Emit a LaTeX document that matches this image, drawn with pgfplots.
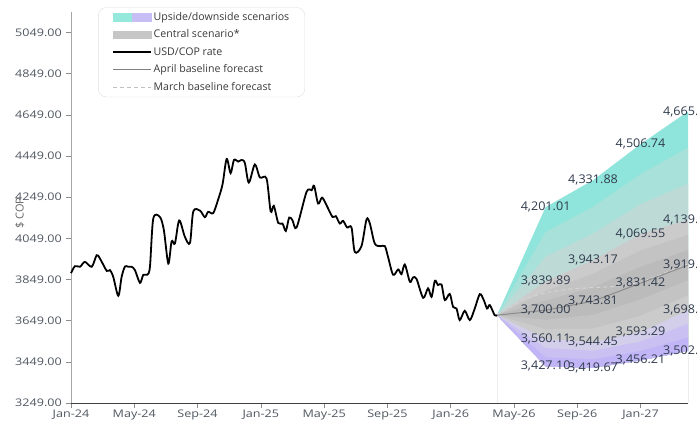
\documentclass[border=0pt]{standalone}
\usepackage{fontspec}
\setmainfont{Open Sans}
\newfontfamily\tickfont[FakeStretch=1.2]{Open Sans}
\newfontfamily\datafont[FakeStretch=1.05]{Open Sans}
\usepackage{pgfplots}
\pgfplotsset{compat=1.18}
\definecolor{tA}{HTML}{8FE5DB}
\definecolor{tB}{HTML}{A7E1DA}
\definecolor{tC}{HTML}{BEDAD7}
\definecolor{gA}{HTML}{CBCBCB}
\definecolor{gB}{HTML}{C3C3C3}
\definecolor{gC}{HTML}{BBBBBB}
\definecolor{pA}{HTML}{D3CFEA}
\definecolor{pB}{HTML}{CAC1F2}
\definecolor{pC}{HTML}{C1B5F7}
\definecolor{upc}{HTML}{94E8DC}
\definecolor{dnc}{HTML}{C7BEF5}
\definecolor{cenc}{HTML}{C6C6C6}
\definecolor{tickc}{HTML}{4F5660}
\definecolor{datac}{HTML}{2F3A4C}
\definecolor{legc}{HTML}{3A3A3A}
\begin{document}
\begin{tikzpicture}
\begin{axis}[
  at={(0,0)}, anchor=south west,
  scale only axis, width=617bp, height=391bp,
  xmin=0, xmax=39, ymin=3249, ymax=5149,
  clip=false,
  axis x line*=bottom, axis y line*=left,
  axis line style={-},
  x axis line style={draw=black!75, line width=0.8bp},
  y axis line style={draw=black!35, line width=0.8bp},
  tick style={draw=black!45, line width=0.6bp},
  major tick length=5bp, tick align=outside,
  xtick={0,4,8,12,16,20,24,28,32,36},
  xticklabels={Jan-24,May-24,Sep-24,Jan-25,May-25,Sep-25,Jan-26,May-26,Sep-26,Jan-27},
  ytick={3249,3449,3649,3849,4049,4249,4449,4649,4849,5049},
  yticklabels={3249.00,3449.00,3649.00,3849.00,4049.00,4249.00,4449.00,4649.00,4849.00,5049.00},
  xticklabel style={font=\tickfont\fontsize{10.5bp}{12bp}\selectfont, text=tickc, inner sep=1.5bp},
  yticklabel style={font=\tickfont\fontsize{10.5bp}{12bp}\selectfont, text=tickc, inner sep=1.5bp, xshift=-2.5bp},
  ylabel={\$ COP},
  ylabel style={at={(axis description cs:-0.083,0.486)}, anchor=center, font=\fontsize{11bp}{13bp}\selectfont, text=black!60},
  legend style={at={(0.044,1.012)}, anchor=north west, draw=black!13, rounded corners=8bp, fill=white,
    font=\fontsize{10.6bp}{12bp}\selectfont, text=legc, inner xsep=14bp, inner ysep=3bp, row sep=4bp,
    nodes={text height=8bp, text depth=2.5bp, inner sep=1.5bp}},
  legend cell align=left,
]
% fan layers (each from its upper boundary down to the downside edge)
\addplot[fill=tA, draw=none, forget plot] coordinates {(26.93,3676) (30,4201.01) (33,4331.88) (36,4506.74) (39,4665.53) (39,3502.24) (36,3456.21) (33,3419.67) (30,3427.10)};
\addplot[fill=tB, draw=none, forget plot] coordinates {(26.93,3676) (30,4080.64) (33,4202.31) (36,4361.01) (39,4490.05) (39,3502.24) (36,3456.21) (33,3419.67) (30,3427.10)};
\addplot[fill=tC, draw=none, forget plot] coordinates {(26.93,3676) (30,3960.26) (33,4072.74) (36,4215.28) (39,4314.56) (39,3502.24) (36,3456.21) (33,3419.67) (30,3427.10)};
\addplot[fill=gA, draw=none, forget plot] coordinates {(26.93,3676) (30,3839.89) (33,3943.17) (36,4069.55) (39,4139.08) (39,3502.24) (36,3456.21) (33,3419.67) (30,3427.10)};
\addplot[fill=gB, draw=none, forget plot] coordinates {(26.93,3676) (30,3793.26) (33,3876.72) (36,3990.17) (39,4065.73) (39,3502.24) (36,3456.21) (33,3419.67) (30,3427.10)};
\addplot[fill=gC, draw=none, forget plot] coordinates {(26.93,3676) (30,3746.63) (33,3810.26) (36,3910.80) (39,3992.37) (39,3502.24) (36,3456.21) (33,3419.67) (30,3427.10)};
\addplot[fill=gB, draw=none, forget plot] coordinates {(26.93,3676) (30,3653.37) (33,3677.36) (36,3752.04) (39,3845.67) (39,3502.24) (36,3456.21) (33,3419.67) (30,3427.10)};
\addplot[fill=gA, draw=none, forget plot] coordinates {(26.93,3676) (30,3606.74) (33,3610.91) (36,3672.67) (39,3772.31) (39,3502.24) (36,3456.21) (33,3419.67) (30,3427.10)};
\addplot[fill=pA, draw=none, forget plot] coordinates {(26.93,3676) (30,3560.11) (33,3544.45) (36,3593.29) (39,3698.96) (39,3502.24) (36,3456.21) (33,3419.67) (30,3427.10)};
\addplot[fill=pB, draw=none, forget plot] coordinates {(26.93,3676) (30,3515.77) (33,3502.86) (36,3547.60) (39,3633.39) (39,3502.24) (36,3456.21) (33,3419.67) (30,3427.10)};
\addplot[fill=pC, draw=none, forget plot] coordinates {(26.93,3676) (30,3471.44) (33,3461.26) (36,3501.90) (39,3567.81) (39,3502.24) (36,3456.21) (33,3419.67) (30,3427.10)};
% faint verticals
\addplot[draw=black!7, forget plot] coordinates {(26.93,3249) (26.93,3676)};
\addplot[draw=black!7, forget plot] coordinates {(39,3249) (39,3502.24)};
% March baseline (dashed)
\addplot[draw=black!17, line width=1bp, dash pattern=on 4bp off 3bp, forget plot] coordinates {(26.93,3676) (28.5,3752) (30,3785) (31.5,3803) (33,3810) (34.5,3815) (36,3835) (39,3925)};
% April baseline
\addplot[draw=black!45, line width=1bp, forget plot] coordinates {(26.93,3676) (30,3700) (33,3743.81) (36,3831.42) (39,3919.02)};
% USD/COP history
\addplot[black, line width=1.8bp, smooth, tension=0.5, forget plot] table {
x y
0 3880
0.25 3914
0.57 3911
0.88 3935
1.31 3911
1.62 3967
1.83 3951
2.26 3891
2.46 3895
2.67 3862
2.99 3770
3.20 3862
3.41 3912
3.62 3911
3.83 3911
4.04 3895
4.36 3833
4.57 3872
4.82 3872
4.99 3911
5.20 4145
5.62 4153
5.87 4089
6.15 3927
6.36 4035
6.57 4024
6.84 4136
7.20 4056
7.52 4027
7.73 4180
8.15 4184
8.46 4152
8.67 4178
8.99 4172
9.31 4240
9.58 4312
9.84 4435
10.09 4366
10.30 4430
10.57 4422
10.78 4430
10.99 4415
11.24 4320
11.62 4408
11.94 4345
12.36 4340
12.62 4180
12.82 4207
13.10 4124
13.37 4121
13.58 4085
13.79 4150
14.00 4137
14.26 4102
14.89 4275
15.21 4283
15.37 4304
15.62 4218
15.87 4247
16.15 4210
16.53 4153
16.74 4157
16.99 4121
17.20 4134
17.45 4102
17.73 4102
17.94 3983
18.36 4011
18.68 4141
18.89 4121
19.20 4024
19.56 4011
19.84 4011
20.04 3959
20.36 3872
20.68 3898
20.89 3875
21.10 3922
21.42 3838
21.62 3859
21.84 3852
22.26 3760
22.57 3806
22.79 3765
23.00 3843
23.20 3822
23.42 3825
23.63 3749
23.94 3779
24.15 3716
24.37 3708
24.57 3652
24.89 3697
25.21 3652
25.52 3708
25.84 3778
26.09 3749
26.30 3708
26.47 3725
26.78 3676
26.93 3676
};
% data labels
\addplot[draw=none, mark=none, forget plot, nodes near coords, point meta=explicit symbolic,
  nodes near coords style={anchor=center, font=\datafont\fontsize{12bp}{14bp}\selectfont, text=datac, inner sep=0pt}]
  table[meta=lab] {
x y lab
30 4201.01 4,201.01
30 3839.89 3,839.89
30 3700.00 3,700.00
30 3560.11 3,560.11
30 3427.10 3,427.10
33 4331.88 4,331.88
33 3943.17 3,943.17
33 3743.81 3,743.81
33 3544.45 3,544.45
33 3419.67 3,419.67
36 4506.74 4,506.74
36 4069.55 4,069.55
36 3831.42 3,831.42
36 3593.29 3,593.29
36 3456.21 3,456.21
39 4665.53 4,665.53
39 4139.08 4,139.08
39 3919.02 3,919.02
39 3698.96 3,698.96
39 3502.24 3,502.24
};
% legend
\addlegendimage{legend image code/.code={\fill[upc, sharp corners] (0bp,-4bp) rectangle (19bp,4bp); \fill[dnc, sharp corners] (19bp,-4bp) rectangle (38bp,4bp);}}
\addlegendentry{Upside/downside scenarios}
\addlegendimage{legend image code/.code={\fill[cenc, sharp corners] (0bp,-3.5bp) rectangle (38bp,3.5bp);}}
\addlegendentry{Central scenario*}
\addlegendimage{legend image code/.code={\draw[black, line width=1.8bp, sharp corners] (0bp,0bp) -- (38bp,0bp);}}
\addlegendentry{USD/COP rate}
\addlegendimage{legend image code/.code={\draw[black!50, line width=1.1bp, sharp corners] (0bp,0bp) -- (38bp,0bp);}}
\addlegendentry{April baseline forecast}
\addlegendimage{legend image code/.code={\draw[black!25, line width=1.1bp, sharp corners, dash pattern=on 4bp off 3bp] (0bp,0bp) -- (38bp,0bp);}}
\addlegendentry{March baseline forecast}
\end{axis}
\pgfresetboundingbox
\path[use as bounding box] (-71bp,-22bp) rectangle (626bp,403bp);
\end{tikzpicture}
\end{document}
